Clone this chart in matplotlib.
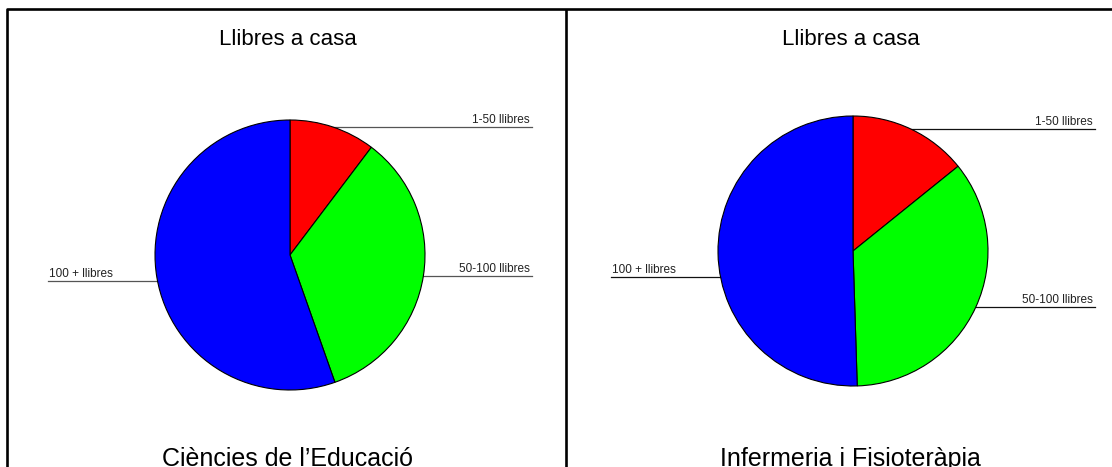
import numpy as np
import matplotlib
matplotlib.use('Agg')
import matplotlib.pyplot as plt

plt.rcParams['font.family'] = ['Liberation Sans', 'DejaVu Sans']

# shares (%) of students by number of books at home
categories = ['1-50 llibres', '50-100 llibres', '100 + llibres']
educacio = [10.3, 34.3, 55.4]
infermeria = [14.2, 35.3, 50.5]
colors = ['#ff0000', '#00ff00', '#0000ff']

title = 'Llibres a casa'
groups = ["Ciències de l\u2019Educació", 'Infermeria i Fisioteràpia']

W, H = 1112, 467
fig = plt.figure(figsize=(W / 100, H / 100), dpi=100)
ax = fig.add_axes([0, 0, 1, 1])
ax.set_xlim(0, W)
ax.set_ylim(0, H)
ax.axis('off')

# frames round the two panels
ax.plot([7, 7, W], [0, H - 8.5, H - 8.5], color='black', lw=1.9, solid_capstyle='butt')
ax.plot([565.5, 565.5], [0, H - 8.5], color='black', lw=1.9, solid_capstyle='butt')

panels = [
    dict(values=educacio, cx=290, cy=H - 255, line='#555555', name=groups[0]),
    dict(values=infermeria, cx=853, cy=H - 251, line='#111111', name=groups[1]),
]
R = 135
reach = 242

for p in panels:
    cx, cy = p['cx'], p['cy']
    wedges, _ = ax.pie(p['values'], colors=colors, startangle=90, counterclock=False,
                       center=(cx, cy), radius=R,
                       wedgeprops=dict(edgecolor='black', linewidth=0.8))
    ax.set_xlim(0, W)
    ax.set_ylim(0, H)

    for i, (w, lab) in enumerate(zip(wedges, categories)):
        mid = np.deg2rad((w.theta1 + w.theta2) / 2)
        if i < 2:
            x0 = cx + R * np.cos(mid)
            y0 = cy + R * np.sin(mid)
            ax.plot([x0, cx + reach], [y0, y0], color=p['line'], lw=0.9, zorder=0)
            ax.text(cx + reach - 2, y0 + 4, lab, ha='right', va='baseline',
                    fontsize=8.5, color='#222222')
        else:
            y0 = cy - 0.19 * R
            x0 = cx - np.sqrt(R ** 2 - (y0 - cy) ** 2)
            ax.plot([cx - reach, x0], [y0, y0], color=p['line'], lw=0.9, zorder=0)
            ax.text(cx - reach + 1, y0 + 4, lab, ha='left', va='baseline',
                    fontsize=8.5, color='#222222')

    ax.text(cx - 2, H - 45, title, ha='center', va='baseline', fontsize=16)
    ax.text(cx - 3, H - 466, p['name'], ha='center', va='baseline', fontsize=18)

fig.savefig('out.png', dpi=100)
